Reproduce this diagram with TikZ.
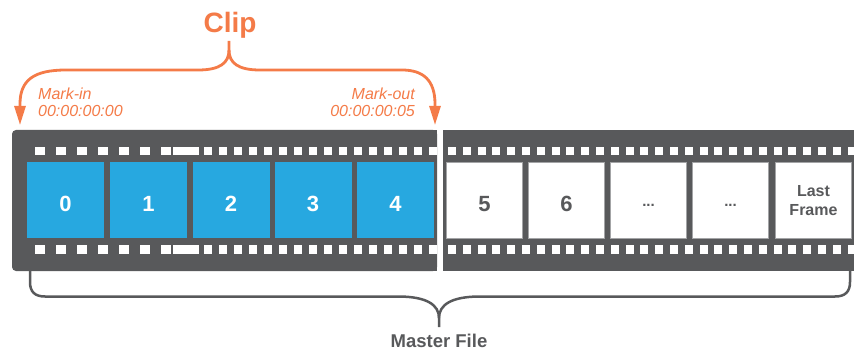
\documentclass[tikz,border=0pt]{standalone}
\usepackage{fontspec}
\setmainfont{Liberation Sans}
\usetikzlibrary{arrows.meta}
\definecolor{film}{HTML}{58595B}
\definecolor{clipblue}{HTML}{27A8E0}
\definecolor{orng}{HTML}{F47B48}
\definecolor{frameedge}{HTML}{A3A4A6}
\begin{document}
\begin{tikzpicture}[x=1pt,y=-1pt,
  hole/.style={fill=white},
  framebase/.style={minimum width=77pt, minimum height=76pt, inner sep=0pt, outer sep=0pt},
  blueframe/.style={framebase, fill=clipblue, text=white, text height=22pt, text depth=0pt, font=\bfseries\fontsize{22}{22}\selectfont},
  whitebox/.style={framebase, minimum width=76pt, fill=white, draw=frameedge, line width=0.8pt, text=film},
  whiteframe/.style={whitebox, text height=22pt, text depth=0pt, font=\bfseries\fontsize{22}{22}\selectfont},
  dotsframe/.style={whitebox, text height=11pt, text depth=0pt, font=\bfseries\fontsize{15}{15}\selectfont},
  marktext/.style={text=orng, font=\itshape\fontsize{16}{16}\selectfont, inner sep=0pt},
  bracetop/.style={orng, line width=2.8pt},
  bracebot/.style={film, line width=2.5pt},
  arrowtip/.style={-{Triangle[length=19pt,width=11pt]}}
]
\useasboundingbox (0,0) rectangle (854,350);

% film strips
\fill[film, rounded corners=4pt] (12,130) rectangle (437,271);
\fill[film] (420,130) rectangle (437,271);
\fill[film] (443,130) rectangle (854,271);

% sprocket holes
\foreach \y/\h in {147/155,245/254}{
  \foreach \x in {35,56,77,98,119,140,161}
    \fill[hole] (\x,\y) rectangle (\x+9.5,\h);
  \fill[hole] (173,\y) rectangle (199,\h);
  \foreach \k in {0,...,15}
    \fill[hole] (204+15*\k,\y) rectangle (212+15*\k,\h);
  \begin{scope}
    \clip (443,130) rectangle (854,271);
    \foreach \k in {0,...,27}
      \fill[hole] (448+14.8*\k,\y) rectangle (456+14.8*\k,\h);
  \end{scope}
}

% frames
\node[blueframe] (f0) at (65.5,200) {0};
\node[blueframe] (f1) at (148.5,200) {1};
\node[blueframe] (f2) at (231,200) {2};
\node[blueframe] (f3) at (313,200) {3};
\node[blueframe] (f4) at (395.5,200) {4};
\node[whiteframe] (f5) at (484.5,200.5) {5};
\node[whiteframe] (f6) at (566.5,200.5) {6};
\node[dotsframe] (f7) at (648.5,200.5) {...};
\node[dotsframe] (f8) at (730.5,200.5) {...};
\node[whitebox, align=center, font=\bfseries\fontsize{16}{19}\selectfont] (flast) at (813.5,200.5) {Last\\Frame};

% clip label and brace
\node[text=orng, font=\bfseries\fontsize{28}{28}\selectfont, anchor=base, inner sep=0pt] (clip) at (230,33) {Clip};
\coordinate (cliptip) at (229,41);
\coordinate (inpt) at (20,125);
\coordinate (outpt) at (435,125);
\draw[bracetop, arrowtip] (cliptip) -- (229,50) .. controls (229,63) and (220,70) .. (198,70)
  -- (66,70) .. controls (34,70) and (20,80) .. (20,104) -- (inpt);
\draw[bracetop, arrowtip] (229,50) .. controls (229,63) and (238,70) .. (260,70)
  -- (402,70) .. controls (423,70) and (435,80) .. (435,104) -- (outpt);

\node[marktext, anchor=base west] (markin) at (38,100) {Mark-in};
\node[marktext, anchor=base west] (markintc) at (38,117) {00:00:00:00};
\node[marktext, anchor=base east] (markout) at (415,100) {Mark-out};
\node[marktext, anchor=base east] (markouttc) at (415,117) {00:00:00:05};

% master file brace
\coordinate (mleft) at (30,271);
\coordinate (mright) at (850,271);
\coordinate (mtip) at (439,327);
\draw[bracebot] (mleft) -- (30,282) .. controls (30,292) and (35,296.5) .. (45,296.5)
  -- (398,296.5) .. controls (427,296.5) and (439,305) .. (439,318) -- (mtip);
\draw[bracebot] (439,318) .. controls (439,305) and (451,296.5) .. (480,296.5)
  -- (835,296.5) .. controls (845,296.5) and (850,292) .. (850,282) -- (mright);
\node[text=film, font=\bfseries\fontsize{18.5}{18.5}\selectfont, anchor=base, inner sep=0pt] (master) at (439,347) {Master File};
\end{tikzpicture}
\end{document}
